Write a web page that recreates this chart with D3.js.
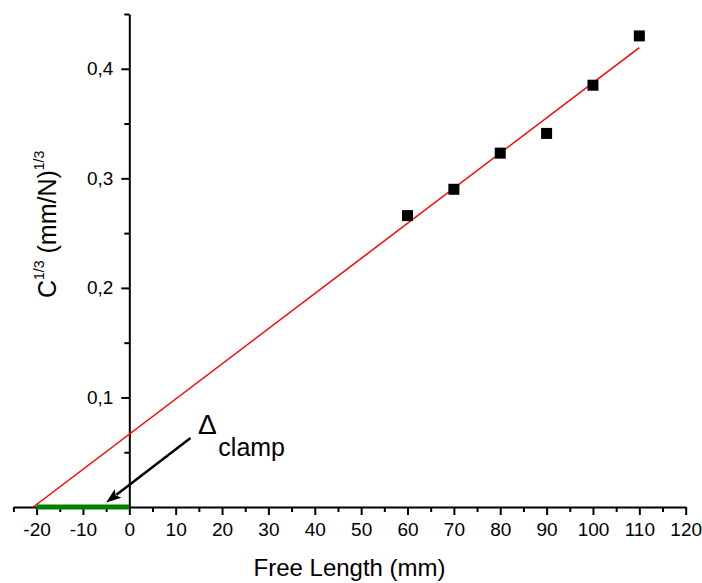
<!DOCTYPE html>
<html>
<head>
<meta charset="utf-8">
<script src="https://cdn.jsdelivr.net/npm/d3@7"></script>
<style>
  html, body { margin: 0; padding: 0; background: #fff; }
  svg { display: block; }
  text { font-family: "Liberation Sans", Arial, Helvetica, sans-serif; fill: #000; }
</style>
</head>
<body>
<svg id="chart" width="702" height="583"></svg>
<script>
// Measured compliance (cube root) against free length
const freeLength = [60, 70, 80, 90, 100, 110];
const complianceCbrt = [0.266, 0.290, 0.323, 0.341, 0.385, 0.430];

// Axis ticks
const xMajorTicks = [-20, -10, 0, 10, 20, 30, 40, 50, 60, 70, 80, 90, 100, 110, 120];
const xMinorTicks = [-25, -15, -5, 5, 15, 25, 35, 45, 55, 65, 75, 85, 95, 105, 115];
const yMajorTicks = [0.1, 0.2, 0.3, 0.4];
const yMinorTicks = [0.05, 0.15, 0.25, 0.35, 0.45];

// Clamp offset span and annotation anchor points (data units)
const clampSpan = [-20, 0];
const arrowTail = [13.2, 0.063];
const arrowTip = [-5, 0.004];
const deltaPos = [14.8, 0.067];
const clampTextPos = [19.2, 0.047];

const svg = d3.select("#chart");

const x = d3.scaleLinear().domain([-25, 120]).range([13.4, 685.7]);
const y = d3.scaleLinear().domain([0, 0.45]).range([507, 14]);

const commaFmt = d => d3.format(".1f")(d).replace(".", ",");

// Least-squares fit through the measured points
const n = freeLength.length;
const mx = d3.mean(freeLength), my = d3.mean(complianceCbrt);
let sxy = 0, sxx = 0;
for (let i = 0; i < n; i++) {
  sxy += (freeLength[i] - mx) * (complianceCbrt[i] - my);
  sxx += (freeLength[i] - mx) ** 2;
}
const slope = sxy / sxx;
const intercept = my - slope * mx;
const xZero = -intercept / slope;

// X axis
const xAxisG = svg.append("g").attr("transform", `translate(0,${y(0)})`);
xAxisG.call(d3.axisBottom(x).tickValues(xMinorTicks).tickSize(5).tickSizeOuter(0).tickFormat(""));
xAxisG.call(g => g.select(".domain").remove());
svg.append("g").attr("transform", `translate(0,${y(0)})`)
  .call(d3.axisBottom(x).tickValues(xMajorTicks).tickSize(8).tickSizeOuter(0).tickPadding(8)
    .tickFormat(d => String(d)));

// Y axis
const yAxisG = svg.append("g").attr("transform", `translate(${x(0)},0)`);
yAxisG.call(d3.axisLeft(y).tickValues(yMinorTicks).tickSize(5).tickSizeOuter(0).tickFormat(""));
yAxisG.call(g => g.select(".domain").remove());
svg.append("g").attr("transform", `translate(${x(0)},0)`)
  .call(d3.axisLeft(y).tickValues(yMajorTicks).tickSize(8).tickSizeOuter(0).tickPadding(8)
    .tickFormat(commaFmt));

svg.selectAll(".domain, .tick line")
  .attr("stroke", "#000").attr("stroke-width", 2);
svg.selectAll(".tick text")
  .attr("font-size", 19)
  .attr("font-family", "'Liberation Sans', Arial, sans-serif")
  .attr("fill", "#000");

// Fit line
svg.append("line")
  .attr("x1", x(xZero)).attr("y1", y(0))
  .attr("x2", x(d3.max(freeLength))).attr("y2", y(intercept + slope * d3.max(freeLength)))
  .attr("stroke", "#ff0000").attr("stroke-width", 1.5);

// Clamp offset bar on the x axis
svg.append("line")
  .attr("x1", x(clampSpan[0])).attr("y1", y(0))
  .attr("x2", x(clampSpan[1])).attr("y2", y(0))
  .attr("stroke", "#008000").attr("stroke-width", 5);

// Data markers
const sq = 11;
svg.append("g").selectAll("rect")
  .data(freeLength.map((v, i) => [v, complianceCbrt[i]]))
  .join("rect")
  .attr("x", d => x(d[0]) - sq / 2)
  .attr("y", d => y(d[1]) - sq / 2)
  .attr("width", sq).attr("height", sq)
  .attr("fill", "#000");

// Annotation arrow
const tx = x(arrowTail[0]), ty = y(arrowTail[1]);
const hx = x(arrowTip[0]), hy = y(arrowTip[1]);
const len = Math.hypot(hx - tx, hy - ty);
const ux = (hx - tx) / len, uy = (hy - ty) / len;
const headLen = 15, headHalf = 5.5;
const bx = hx - ux * headLen, by = hy - uy * headLen;
svg.append("line")
  .attr("x1", tx).attr("y1", ty)
  .attr("x2", bx + ux * 2).attr("y2", by + uy * 2)
  .attr("stroke", "#000").attr("stroke-width", 2.5);
svg.append("path")
  .attr("d", `M${hx},${hy}L${bx - uy * headHalf},${by + ux * headHalf}L${bx + ux * 3},${by + uy * 3}L${bx + uy * headHalf},${by - ux * headHalf}Z`)
  .attr("fill", "#000");

// Annotation label
svg.append("text")
  .attr("x", x(deltaPos[0])).attr("y", y(deltaPos[1]))
  .attr("font-family", "'Liberation Serif', 'Times New Roman', serif")
  .attr("font-size", 28)
  .text("Δ");
svg.append("text")
  .attr("x", x(clampTextPos[0])).attr("y", y(clampTextPos[1]))
  .attr("font-size", 25)
  .text("clamp");

// Axis titles
svg.append("text")
  .attr("x", (x.range()[0] + x.range()[1]) / 2).attr("y", 576)
  .attr("text-anchor", "middle")
  .attr("font-size", 24)
  .text("Free Length (mm)");

const yTitle = svg.append("text")
  .attr("transform", "translate(56,298) rotate(-90)")
  .attr("font-size", 25);
yTitle.append("tspan").text("C");
yTitle.append("tspan").attr("font-size", 14).attr("dy", -12).text("1/3");
yTitle.append("tspan").attr("dy", 12).text(" (mm/N)");
yTitle.append("tspan").attr("font-size", 14).attr("dy", -12).text("1/3");
</script>
</body>
</html>
